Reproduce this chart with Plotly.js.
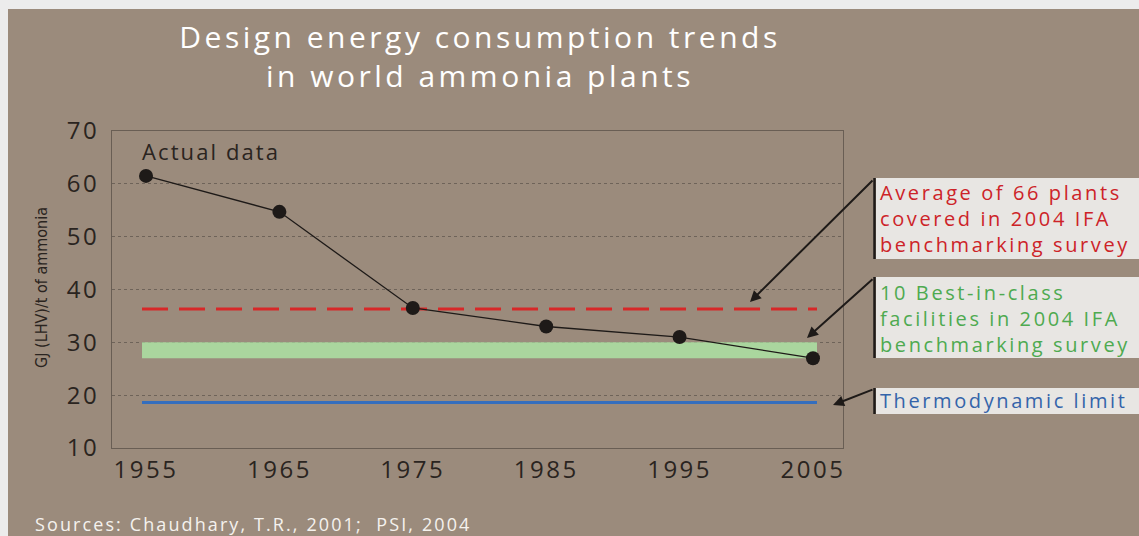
<!DOCTYPE html>
<html>
<head>
<meta charset="utf-8">
<script src="https://cdn.plot.ly/plotly-3.0.1.min.js"></script>
<style>
html,body{margin:0;padding:0;background:#ececec;width:1139px;height:536px;overflow:hidden;}
#chart{position:absolute;left:8px;top:9px;width:1131px;height:527px;}
.gtitle{letter-spacing:3.5px;}
.xtick text, .ytick text{letter-spacing:2.5px;}
.annotation-text{letter-spacing:2.1px;}
.annotation.boxlabel .annotation-text{letter-spacing:2.6px;}
.annotation.ytitle .annotation-text{letter-spacing:0;}
</style>
</head>
<body>
<div id="chart"></div>
<script>
// ---- data ----
const years = [1955, 1965, 1975, 1985, 1995, 2005];
const actualData = [61.5, 54.7, 36.5, 33, 31, 27];
const averagePlants = 36.3;          // average of 66 plants (2004 IFA)
const bestInClass = [27, 30];        // band for 10 best-in-class facilities
const thermoLimit = 18.6;            // thermodynamic limit
const refSpan = [1954.7, 2005.3];    // x extent of the reference lines
const xTickVals = [1955, 1965, 1975, 1985, 1995, 2005];
const yTickVals = [10, 20, 30, 40, 50, 60, 70];

const titleText = 'Design energy consumption trends<br>in world ammonia plants';
const yTitle = 'GJ (LHV)/t of ammonia';
const sourceText = 'Sources: Chaudhary, T.R., 2001;  PSI, 2004';
const labelAverage = 'Average of 66 plants<br>covered in 2004 IFA<br>benchmarking survey';
const labelBest = '10 Best-in-class<br>facilities in 2004 IFA<br>benchmarking survey';
const labelThermo = 'Thermodynamic limit';

const BG = 'rgb(155,139,124)';
const DARK = '#2a2420';
const FONT = 'Open Sans, Noto Sans, sans-serif';

const traces = [
  { x: refSpan, y: [bestInClass[0], bestInClass[0]], mode: 'lines', line: {width: 0, color: 'rgba(0,0,0,0)'}, hoverinfo: 'skip', showlegend: false },
  { x: refSpan, y: [bestInClass[1], bestInClass[1]], mode: 'lines', fill: 'tonexty', fillcolor: 'rgb(170,214,158)', line: {width: 0, color: 'rgba(0,0,0,0)'}, hoverinfo: 'skip', showlegend: false },
  { x: refSpan, y: [thermoLimit, thermoLimit], mode: 'lines', line: {color: 'rgb(52,110,190)', width: 3}, showlegend: false },
  { x: refSpan, y: [averagePlants, averagePlants], mode: 'lines', line: {color: 'rgb(215,40,40)', width: 3, dash: '26px,11px'}, showlegend: false },
  { x: years, y: actualData, mode: 'lines+markers', line: {color: '#1e1a18', width: 1.3}, marker: {color: '#1e1a18', size: 14}, showlegend: false }
];

// paper helpers (plot area: abs x 112..843, abs y 131..448)
const px = a => (a - 112) / 731;
const py = a => (448 - a) / 317;

const boxes = [
  {top: 178, bottom: 259, text: labelAverage, yc: 218.5, color: 'rgb(205,35,40)'},
  {top: 277, bottom: 358, text: labelBest, yc: 318, color: 'rgb(78,170,80)'},
  {top: 388, bottom: 414, text: labelThermo, yc: 400.5, color: 'rgb(52,100,170)'}
];
const shapes = [];
const annotations = [];
boxes.forEach(b => {
  shapes.push({type: 'rect', xref: 'paper', yref: 'paper', x0: px(876), x1: px(1145), y0: py(b.bottom), y1: py(b.top), fillcolor: 'rgb(232,230,227)', line: {width: 0}, layer: 'above'});
  shapes.push({type: 'line', xref: 'paper', yref: 'paper', x0: px(874.5), x1: px(874.5), y0: py(b.bottom), y1: py(b.top), line: {color: '#1e1a18', width: 2.5}, layer: 'above'});
});

const arrows = [
  {hx: 750, hy: 302, tx: 874, ty: 179},
  {hx: 807, hy: 338, tx: 874, ty: 278},
  {hx: 833, hy: 405, tx: 874, ty: 389}
];
arrows.forEach(a => annotations.push({
  xref: 'paper', yref: 'paper', x: px(a.hx), y: py(a.hy), ax: a.tx - a.hx, ay: a.ty - a.hy,
  showarrow: true, arrowhead: 2, arrowsize: 1.1, arrowwidth: 2, arrowcolor: '#1e1a18', text: ''
}));

const firstBox = annotations.length;
boxes.forEach(b => annotations.push({
  xref: 'paper', yref: 'paper', x: px(878), y: py(b.yc), xanchor: 'left', yanchor: 'middle', align: 'left', showarrow: false,
  text: b.text, font: {family: FONT, size: 20, color: b.color}
}));

annotations.push(
  {xref: 'paper', yref: 'paper', x: px(140), y: py(151), xanchor: 'left', yanchor: 'middle', align: 'left', showarrow: false,
   text: 'Actual data', font: {family: FONT, size: 22, color: DARK}},
  {xref: 'paper', yref: 'paper', x: px(33), y: py(524), xanchor: 'left', yanchor: 'middle', align: 'left', showarrow: false,
   text: sourceText, font: {family: FONT, size: 18, color: 'rgb(245,242,238)'}},
  {xref: 'paper', yref: 'paper', x: px(41), y: py(288), xanchor: 'center', yanchor: 'middle', textangle: -90, showarrow: false,
   text: yTitle, font: {family: 'Liberation Sans Narrow, Arial Narrow, DejaVu Sans Condensed, sans-serif', size: 16, color: DARK}}
);

const layout = {
  width: 1131, height: 527,
  paper_bgcolor: BG, plot_bgcolor: BG,
  margin: {l: 104, r: 296, t: 122, b: 88},
  title: {text: titleText, xref: 'container', yref: 'container', x: 472/1131, xanchor: 'center', y: 1 - 39/527, yanchor: 'top',
          font: {family: FONT, size: 30, color: '#ffffff'}},
  xaxis: {range: [1952.45, 2007.25], tickvals: xTickVals, ticktext: xTickVals.map(String), showgrid: false, zeroline: false,
          showline: true, mirror: true, linecolor: 'rgb(105,94,84)', linewidth: 1,
          ticks: '', ticklen: 0,
          tickfont: {family: FONT, size: 24, color: DARK}},
  yaxis: {range: [10, 70], tickvals: yTickVals, showgrid: true, gridcolor: 'rgb(110,99,89)', griddash: 'dot', gridwidth: 1, zeroline: false,
          showline: true, mirror: true, linecolor: 'rgb(105,94,84)', linewidth: 1,
          ticks: 'outside', ticklen: 7, tickcolor: 'rgba(0,0,0,0)',
          tickfont: {family: FONT, size: 24, color: DARK}},
  shapes: shapes,
  annotations: annotations,
  hovermode: false
};

Plotly.newPlot('chart', traces, layout, {displayModeBar: false, staticPlot: true}).then(() => {
  const groups = document.querySelectorAll('#chart .annotation');
  groups.forEach(g => {
    const i = +g.getAttribute('data-index');
    if (i >= firstBox && i < firstBox + boxes.length) g.classList.add('boxlabel');
    if (i === annotations.length - 1) g.classList.add('ytitle');
  });
});
</script>
</body>
</html>
